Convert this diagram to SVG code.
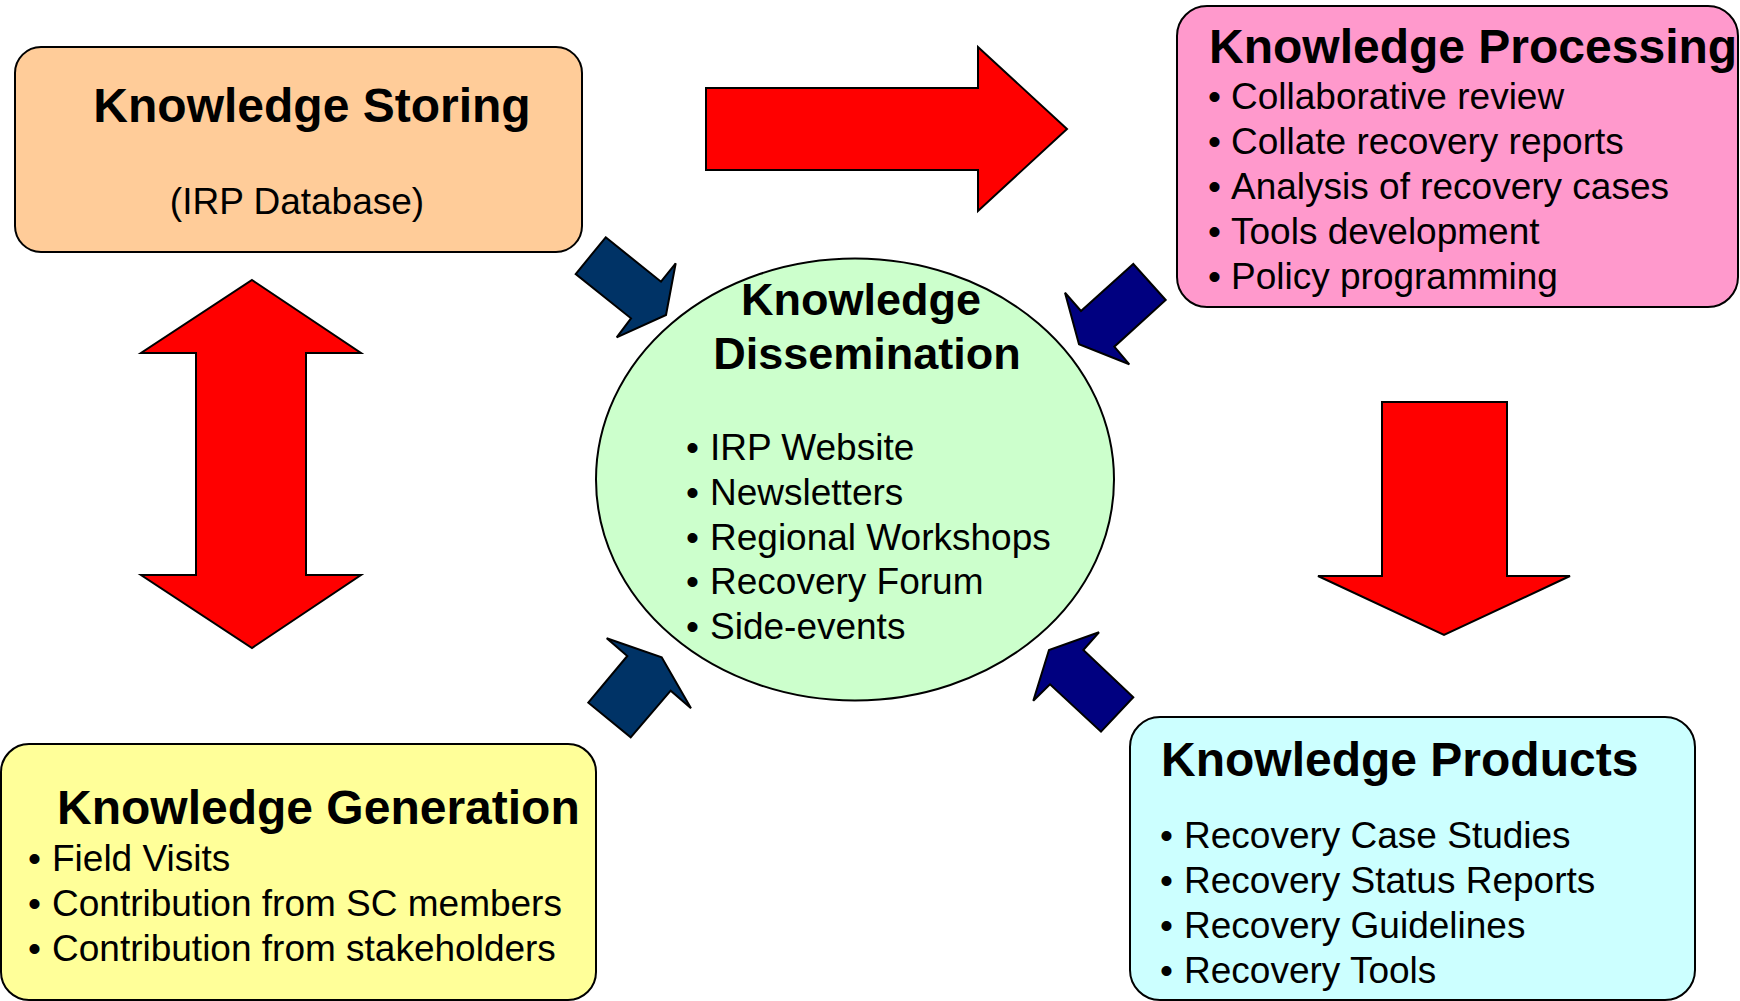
<svg xmlns="http://www.w3.org/2000/svg" width="1740" height="1001" viewBox="0 0 1740 1001">
<style>
.box{stroke:#000;stroke-width:2}
.title{font-family:"Liberation Sans",Arial,sans-serif;font-weight:bold;font-size:48px;fill:#000}
.ctitle{font-family:"Liberation Sans",Arial,sans-serif;font-weight:bold;font-size:45px;fill:#000;text-anchor:middle}
.item{font-family:"Liberation Sans",Arial,sans-serif;font-size:37px;fill:#000}
.red{fill:#FF0000;stroke:#000;stroke-width:2;stroke-linejoin:miter}
.nvA{fill:#003366;stroke:#000;stroke-width:2}
.nvB{fill:#000080;stroke:#000;stroke-width:2}
</style>
<rect width="1740" height="1001" fill="#fff"/>

<g id="knowledge-storing">
<rect class="box" x="15" y="47" width="567" height="205" rx="26" fill="#FFCC99"/>
<text class="title" x="312" y="122" text-anchor="middle">Knowledge Storing</text>
<text class="item" x="297" y="214" text-anchor="middle">(IRP Database)</text>
</g>

<g id="knowledge-processing">
<rect class="box" x="1177" y="6" width="561" height="301" rx="30" fill="#FF99CC"/>
<text class="title" x="1209" y="63">Knowledge Processing</text>
<text class="item"><tspan x="1208" y="109">•</tspan><tspan x="1231">Collaborative review</tspan></text>
<text class="item"><tspan x="1208" y="154">•</tspan><tspan x="1231">Collate recovery reports</tspan></text>
<text class="item"><tspan x="1208" y="199">•</tspan><tspan x="1231">Analysis of recovery cases</tspan></text>
<text class="item"><tspan x="1208" y="244">•</tspan><tspan x="1231">Tools development</tspan></text>
<text class="item"><tspan x="1208" y="289">•</tspan><tspan x="1231">Policy programming</tspan></text>
</g>

<g id="knowledge-dissemination">
<ellipse class="box" cx="855" cy="479.5" rx="259" ry="221" fill="#CCFFCC"/>
<text class="ctitle" x="861" y="315">Knowledge</text>
<text class="ctitle" x="867" y="369">Dissemination</text>
<text class="item"><tspan x="686" y="460">•</tspan><tspan x="710">IRP Website</tspan></text>
<text class="item"><tspan x="686" y="505">•</tspan><tspan x="710">Newsletters</tspan></text>
<text class="item"><tspan x="686" y="550">•</tspan><tspan x="710">Regional Workshops</tspan></text>
<text class="item"><tspan x="686" y="594">•</tspan><tspan x="710">Recovery Forum</tspan></text>
<text class="item"><tspan x="686" y="639">•</tspan><tspan x="710">Side-events</tspan></text>
</g>

<g id="knowledge-generation">
<rect class="box" x="1" y="744" width="595" height="256" rx="28" fill="#FFFF99"/>
<text class="title" x="57" y="824">Knowledge Generation</text>
<text class="item"><tspan x="28" y="871">•</tspan><tspan x="52">Field Visits</tspan></text>
<text class="item"><tspan x="28" y="916">•</tspan><tspan x="52">Contribution from SC members</tspan></text>
<text class="item"><tspan x="28" y="961">•</tspan><tspan x="52">Contribution from stakeholders</tspan></text>
</g>

<g id="knowledge-products">
<rect class="box" x="1130" y="717" width="565" height="283" rx="30" fill="#CCFFFF"/>
<text class="title" x="1161" y="776">Knowledge Products</text>
<text class="item"><tspan x="1160" y="848">•</tspan><tspan x="1184">Recovery Case Studies</tspan></text>
<text class="item"><tspan x="1160" y="893">•</tspan><tspan x="1184">Recovery Status Reports</tspan></text>
<text class="item"><tspan x="1160" y="938">•</tspan><tspan x="1184">Recovery Guidelines</tspan></text>
<text class="item"><tspan x="1160" y="983">•</tspan><tspan x="1184">Recovery Tools</tspan></text>
</g>

<g id="connectors">
<polygon class="red" points="706,88 978,88 978,47 1067,129 978,211 978,170 706,170"/>
<polygon class="red" points="252,280 361,353 306,353 306,575 361,575 252,648 141,575 196,575 196,353 141,353"/>
<polygon class="red" points="1382,402 1507,402 1507,576 1570,576 1444,635 1318,576 1382,576"/>
<polygon class="nvA" points="605.7,237.3 661,281.7 675.7,263.3 666,315 616.7,337.3 631,318.3 575.7,274"/>
<polygon class="nvB" points="1133.3,264 1165.7,300 1114.3,346.7 1129.3,364.3 1079,344.3 1065,292.7 1081,311"/>
<polygon class="nvA" points="606.7,638.3 627.3,656 588.3,702.7 630.7,737.3 670.7,690.7 691,708.3 661.7,657.3"/>
<polygon class="nvB" points="1099,632.3 1083.3,650 1133.3,697.3 1101,731.7 1050,684.3 1033.3,700.7 1049,650"/>
</g>
</svg>
